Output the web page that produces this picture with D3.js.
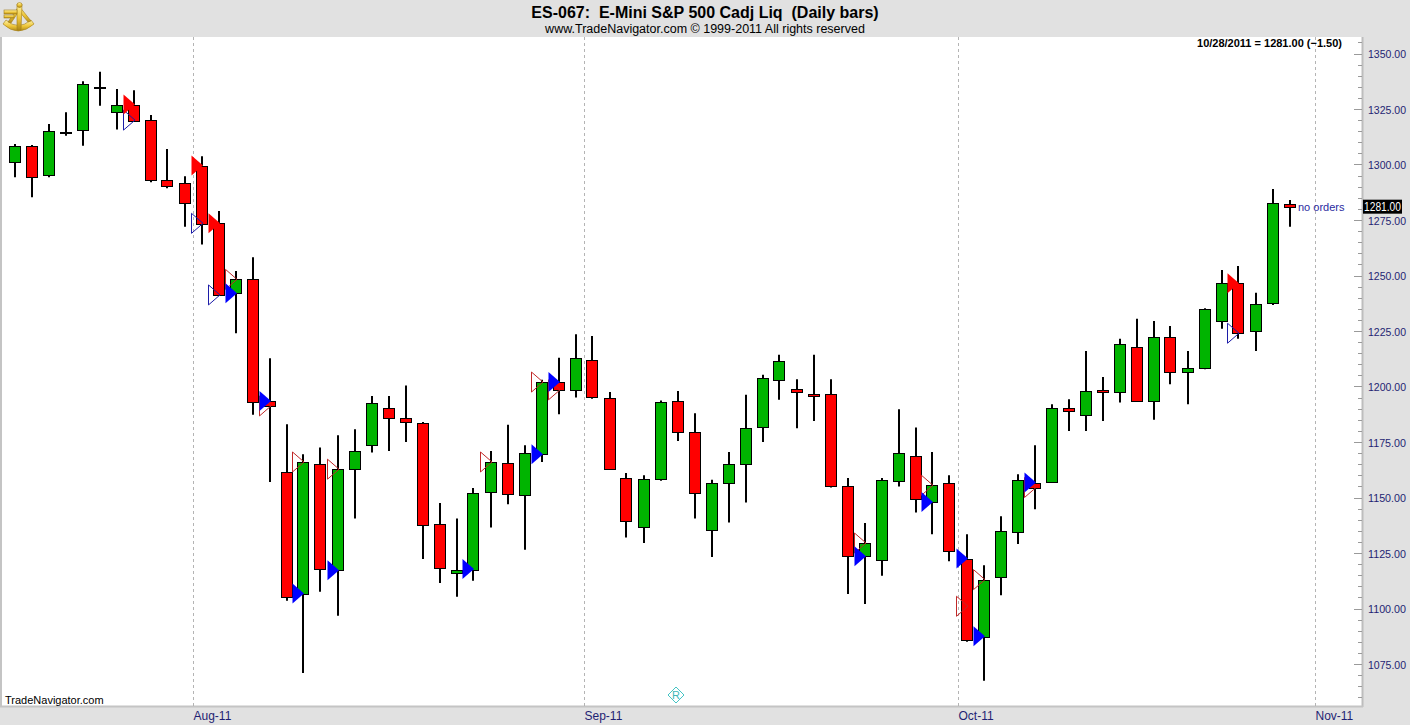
<!DOCTYPE html>
<html>
<head>
<meta charset="utf-8">
<script src="https://cdn.jsdelivr.net/npm/d3@7"></script>
<style>
  body { margin: 0; background: #fff; overflow: hidden; }
  text { font-family: Arial, "Liberation Sans", sans-serif; }
</style>
</head>
<body>
<script>
const svg_width = 1410;
const svg_height = 725;

// daily bars, ES-067 back adjusted
const dates = [
  '2011-07-15','2011-07-18','2011-07-19','2011-07-20','2011-07-21','2011-07-22','2011-07-25','2011-07-26','2011-07-27','2011-07-28','2011-07-29',
  '2011-08-01','2011-08-02','2011-08-03','2011-08-04','2011-08-05','2011-08-08','2011-08-09','2011-08-10','2011-08-11','2011-08-12',
  '2011-08-15','2011-08-16','2011-08-17','2011-08-18','2011-08-19','2011-08-22','2011-08-23','2011-08-24','2011-08-25','2011-08-26',
  '2011-08-29','2011-08-30','2011-08-31',
  '2011-09-01','2011-09-02','2011-09-05','2011-09-06','2011-09-07','2011-09-08','2011-09-09','2011-09-12','2011-09-13','2011-09-14',
  '2011-09-15','2011-09-16','2011-09-19','2011-09-20','2011-09-21','2011-09-22','2011-09-23','2011-09-26','2011-09-27','2011-09-28',
  '2011-09-29','2011-09-30',
  '2011-10-03','2011-10-04','2011-10-05','2011-10-06','2011-10-07','2011-10-10','2011-10-11','2011-10-12','2011-10-13','2011-10-14',
  '2011-10-17','2011-10-18','2011-10-19','2011-10-20','2011-10-21','2011-10-24','2011-10-25','2011-10-26','2011-10-27','2011-10-28'
];
const opens = [
  1301.5, 1308.25, 1295, 1314.75, 1315.5, 1335, 1324, 1327, 1320, 1293, 1291.5,
  1299.5, 1273.5, 1242, 1248.25, 1193.5, 1161.5, 1106.75, 1165, 1117.25, 1162.5,
  1173.5, 1190.5, 1185.75, 1183.5, 1138, 1116, 1117.75, 1152.5, 1165.5, 1151,
  1169.5, 1202, 1198.25,
  1211.75, 1195, 1159, 1137, 1158.5, 1193.25, 1179.5, 1135.75, 1156.5, 1165.5,
  1182, 1202.75, 1198.75, 1196.5, 1196.5, 1155.25, 1123.5, 1121.75, 1157.25, 1168.5,
  1148, 1156.75,
  1122.5, 1087.5, 1114.25, 1134.5, 1156.75, 1157, 1190.25, 1187, 1198.5, 1197.5,
  1218, 1193.75, 1222.5, 1206.5, 1208.5, 1229.5, 1246.5, 1225, 1237.5, 1282.25
];
const highs = [
  1309.25, 1308.75, 1318.25, 1323.5, 1337.5, 1341.75, 1334, 1333.5, 1322.25, 1307, 1294.75,
  1303.75, 1279, 1252, 1258.25, 1212.75, 1183, 1169.5, 1172.5, 1178, 1180.75,
  1195.75, 1195.75, 1200.5, 1184, 1147.5, 1140.5, 1154.25, 1171, 1182.75, 1173.5,
  1203, 1213, 1223.5,
  1222.75, 1197.5, 1161, 1160, 1193.75, 1198, 1188, 1158, 1170.5, 1196.25,
  1205.25, 1214.25, 1203.25, 1214.25, 1203.25, 1158.75, 1138.5, 1158.75, 1189.75, 1181.5,
  1170.5, 1160,
  1133.5, 1119.5, 1141.5, 1160.5, 1173.5, 1192, 1194.25, 1216, 1204.25, 1221.5,
  1230.5, 1229.5, 1227.25, 1216, 1235.25, 1252.5, 1254.25, 1242.25, 1289, 1284
];
const lows = [
  1294.25, 1285.25, 1294.25, 1313, 1308.5, 1326.5, 1315.75, 1320, 1292, 1289.25, 1272,
  1264, 1240.75, 1224, 1187.25, 1157, 1103.5, 1071, 1107.5, 1096.75, 1140.5,
  1170.25, 1171, 1175, 1122.25, 1111.5, 1105.25, 1112.5, 1136.5, 1147, 1126.5,
  1166, 1187.5, 1195,
  1194.5, 1162.5, 1132, 1129.5, 1157.5, 1175.5, 1140.5, 1123.25, 1138.75, 1147.75,
  1175, 1194, 1181.25, 1184.5, 1154.5, 1106.5, 1102, 1114.75, 1155, 1143.25,
  1133.5, 1121.25,
  1085, 1067.5, 1106, 1129, 1144.75, 1156.5, 1180, 1180, 1184.5, 1192.75,
  1193.25, 1185, 1201, 1192, 1207.75, 1226, 1221.5, 1216, 1236.75, 1272
];
const closes = [
  1308.5, 1294.25, 1315, 1314.75, 1336.25, 1335, 1327, 1320, 1293, 1290.5, 1282.5,
  1273.5, 1241.25, 1248.25, 1193, 1191.25, 1105.25, 1166, 1117.75, 1162.75, 1170.75,
  1192.5, 1186, 1184, 1137.5, 1118, 1117.25, 1152.25, 1166, 1151.5, 1170,
  1202, 1198.5, 1212.75,
  1195, 1163, 1139.5, 1158.5, 1193, 1179.5, 1152, 1156.75, 1165, 1181.5,
  1204, 1211.5, 1197.5, 1195.5, 1155.25, 1123.5, 1129.5, 1158, 1170, 1149.25,
  1155.5, 1126,
  1086, 1113, 1135, 1158, 1154.5, 1190.5, 1189, 1197.75, 1197.5, 1219,
  1193.5, 1222.5, 1206.75, 1208.5, 1235, 1246.5, 1224, 1237, 1282.5, 1281
];

// strategy markers: sell = red, buy = blue, fill = filled, open = outline
const marker_dates = [
  '2011-07-26','2011-07-26','2011-08-01','2011-08-01','2011-08-02','2011-08-02','2011-08-03','2011-08-03',
  '2011-08-05','2011-08-05','2011-08-09','2011-08-09','2011-08-11','2011-08-11','2011-08-23','2011-08-24',
  '2011-08-29','2011-08-29','2011-08-30','2011-08-30','2011-09-23','2011-09-23','2011-09-29','2011-09-29',
  '2011-10-03','2011-10-03','2011-10-04','2011-10-04','2011-10-07','2011-10-07','2011-10-25','2011-10-25'
];
const marker_prices = [
  1327, 1320, 1299.5, 1273.5, 1273.5, 1241.25, 1242, 1248.25,
  1193.5, 1191.25, 1106.75, 1166, 1117.25, 1162.75, 1117.75, 1166,
  1169.5, 1202, 1202, 1198.5, 1123.5, 1129.5, 1148, 1155.5,
  1122.5, 1101, 1087.5, 1113, 1156.75, 1154.5, 1246.5, 1224
];
const marker_types = [
  'sell_fill','buy_open','sell_fill','buy_open','sell_fill','buy_open','buy_fill','sell_open',
  'buy_fill','sell_open','buy_fill','sell_open','buy_fill','sell_open','buy_fill','sell_open',
  'buy_fill','sell_open','buy_fill','sell_open','buy_fill','sell_open','buy_fill','sell_open',
  'buy_fill','sell_open','buy_fill','sell_open','buy_fill','sell_open','sell_fill','buy_open'
];

const month_labels = ['Aug-11', 'Sep-11', 'Oct-11', 'Nov-11'];
const month_firsts = ['2011-08-01', '2011-09-01', '2011-10-03', '2011-11-01'];
const y_ticks = [1075, 1100, 1125, 1150, 1175, 1200, 1225, 1250, 1275, 1300, 1325, 1350];

const last_price = closes[closes.length - 1];
const last_change = last_price - closes[closes.length - 2];

const plot_top = 37, plot_bottom = 706, plot_right = 1362;
const colors = {up: '#00b400', down: '#ff0000', navy: '#1f1f73', panel: '#e1e1e1'};

// trading day index, extends past the last bar by weekdays
function trade_index(ds) {
    const i = dates.indexOf(ds);
    if (i >= 0) return i;
    let d = new Date(dates[dates.length - 1] + 'T00:00:00Z');
    const end = new Date(ds + 'T00:00:00Z');
    let n = dates.length - 1;
    while (d < end) {
        d = new Date(d.getTime() + 86400000);
        const wd = d.getUTCDay();
        if (wd !== 0 && wd !== 6) n++;
    }
    return n;
}

const x = d3.scaleLinear().domain([0, dates.length - 1]).range([14.5, 1289.5]);
const y = d3.scaleLinear().domain([1075, 1350]).range([664, 53.5]);

const svg = d3.select('body')
    .append('svg')
    .attr('width', svg_width)
    .attr('height', svg_height);

svg.append('rect')
    .attr('width', svg_width)
    .attr('height', svg_height)
    .attr('fill', colors.panel);

svg.append('rect')
    .attr('x', 0)
    .attr('y', plot_top)
    .attr('width', plot_right)
    .attr('height', plot_bottom - plot_top)
    .attr('fill', 'white');

// frame lines
svg.append('line').attr('x1', 1).attr('x2', 1).attr('y1', plot_top).attr('y2', plot_bottom)
    .attr('stroke', '#c4c4c4').attr('stroke-width', 2);
svg.append('line').attr('x1', plot_right + 0.5).attr('x2', plot_right + 0.5).attr('y1', plot_top).attr('y2', plot_bottom + 1)
    .attr('stroke', '#bdbdbd').attr('stroke-width', 2);
svg.append('line').attr('x1', 0).attr('x2', plot_right + 1).attr('y1', plot_bottom + 0.5).attr('y2', plot_bottom + 0.5)
    .attr('stroke', '#c4c4c4').attr('stroke-width', 2);

// month separators
const month_g = svg.append('g');
month_labels.forEach(function (label, i) {
    const mx = Math.round(x(trade_index(month_firsts[i]) - 0.5)) + 0.5;
    month_g.append('line')
        .attr('x1', mx).attr('x2', mx)
        .attr('y1', plot_top).attr('y2', plot_bottom)
        .attr('stroke', '#b4b4b4')
        .attr('stroke-dasharray', '3,3');
    month_g.append('text')
        .attr('x', mx)
        .attr('y', 720)
        .attr('font-size', 12)
        .attr('fill', colors.navy)
        .text(label);
});

// y axis on the right
const axis_g = svg.append('g');
d3.range(1060, 1360, 5).forEach(function (v) {
    const ty = Math.round(y(v)) + 0.5;
    if (ty < plot_top + 2 || ty > plot_bottom - 2) return;
    const major = v % 25 === 0;
    axis_g.append('line')
        .attr('x1', major ? plot_right - 8 : plot_right - 4)
        .attr('x2', plot_right)
        .attr('y1', ty).attr('y2', ty)
        .attr('stroke', '#9a9a9a');
});
axis_g.selectAll('text')
    .data(y_ticks)
    .enter()
    .append('text')
    .attr('x', 1368)
    .attr('y', d => y(d) + 4.5)
    .attr('font-size', 11.5)
    .attr('textLength', 38)
    .attr('lengthAdjust', 'spacingAndGlyphs')
    .attr('fill', colors.navy)
    .text(d => d3.format('.2f')(d));

// last price flag
axis_g.append('rect')
    .attr('x', 1363)
    .attr('y', y(last_price) - 7)
    .attr('width', 39)
    .attr('height', 14)
    .attr('fill', 'black');
axis_g.append('text')
    .attr('x', 1364)
    .attr('y', y(last_price) + 4.5)
    .attr('font-size', 12)
    .attr('textLength', 37)
    .attr('lengthAdjust', 'spacingAndGlyphs')
    .attr('fill', 'white')
    .text(d3.format('.2f')(last_price));

// candles
const bars = dates.map((d, i) => ({i: i, o: opens[i], h: highs[i], l: lows[i], c: closes[i]}));
const candle_g = svg.append('g');
candle_g.selectAll('.wick')
    .data(bars)
    .enter()
    .append('line')
    .attr('class', 'wick')
    .attr('x1', d => Math.round(x(d.i)))
    .attr('x2', d => Math.round(x(d.i)))
    .attr('y1', d => y(d.h))
    .attr('y2', d => y(d.l))
    .attr('stroke', 'black')
    .attr('stroke-width', 2);
candle_g.selectAll('.body')
    .data(bars)
    .enter()
    .append('rect')
    .attr('class', 'body')
    .attr('x', d => Math.round(x(d.i)) - 5.5)
    .attr('y', d => Math.round(y(Math.max(d.o, d.c))) + 0.5)
    .attr('width', 11)
    .attr('height', d => Math.max(1, Math.round(Math.abs(y(d.o) - y(d.c)))))
    .attr('fill', d => d.c >= d.o ? colors.up : colors.down)
    .attr('stroke', 'black')
    .attr('stroke-width', 1);

// signal triangles, outlines under filled ones
const markers = marker_dates.map((d, i) => ({i: trade_index(d), p: marker_prices[i], t: marker_types[i]}));
const tri = d => {
    const mx = Math.round(x(d.i)), my = y(d.p);
    return `M${mx - 10.5},${my - 10}L${mx + 1},${my}L${mx - 10.5},${my + 10}Z`;
};
const marker_g = svg.append('g');
marker_g.selectAll('.open_mark')
    .data(markers.filter(m => m.t.endsWith('open')))
    .enter()
    .append('path')
    .attr('d', tri)
    .attr('fill', 'none')
    .attr('stroke', d => d.t === 'buy_open' ? '#1c1ca8' : '#c02828')
    .attr('stroke-width', 1);
marker_g.selectAll('.fill_mark')
    .data(markers.filter(m => m.t.endsWith('fill')))
    .enter()
    .append('path')
    .attr('d', tri)
    .attr('fill', d => d.t === 'buy_fill' ? '#0000ff' : '#ff0000');

// no orders note
svg.append('text')
    .attr('x', 1298)
    .attr('y', y(last_price) + 4)
    .attr('font-size', 11)
    .attr('fill', '#2a2aa0')
    .text('no orders');

// header
svg.append('text')
    .attr('x', 705)
    .attr('y', 18)
    .attr('text-anchor', 'middle')
    .attr('font-size', 16)
    .attr('font-weight', 'bold')
    .style('white-space', 'pre')
    .text('ES-067:  E-Mini S&P 500 Cadj Liq  (Daily bars)');
svg.append('text')
    .attr('x', 705)
    .attr('y', 33)
    .attr('text-anchor', 'middle')
    .attr('font-size', 12.5)
    .text('www.TradeNavigator.com \u00a9 1999-2011 All rights reserved');

svg.append('text')
    .attr('x', 1342)
    .attr('y', 47)
    .attr('text-anchor', 'end')
    .attr('font-size', 11)
    .attr('font-weight', 'bold')
    .text(`10/28/2011 = ${d3.format('.2f')(last_price)} (${d3.format('.2f')(last_change)})`);

svg.append('text')
    .attr('x', 5)
    .attr('y', 704)
    .attr('font-size', 11)
    .text('TradeNavigator.com');

// R diamond marker
const r_g = svg.append('g').attr('transform', 'translate(676, 695)');
r_g.append('path')
    .attr('d', 'M0,-8L8,0L0,8L-8,0Z')
    .attr('fill', 'none')
    .attr('stroke', '#45c4c4');
r_g.append('text')
    .attr('text-anchor', 'middle')
    .attr('y', 4)
    .attr('font-size', 11)
    .attr('font-family', 'DejaVu Serif, serif')
    .attr('fill', '#3fb8b8')
    .text('R');

// logo, rough sextant
const gold = svg.append('defs').append('linearGradient')
    .attr('id', 'gold').attr('x1', 0).attr('y1', 0).attr('x2', 0).attr('y2', 1);
gold.append('stop').attr('offset', '0%').attr('stop-color', '#fff4a8');
gold.append('stop').attr('offset', '55%').attr('stop-color', '#eec63a');
gold.append('stop').attr('offset', '100%').attr('stop-color', '#b08a18');
const logo = svg.append('g')
    .attr('fill', 'url(#gold)')
    .attr('stroke', '#a27c14')
    .attr('stroke-width', 0.6);
logo.append('path')
    .attr('d', 'M3,24 Q18,38 34,24 L31,20 Q18,31 6,20 Z');
logo.append('path')
    .attr('d', 'M19,6 L8,22 L11,23 L19,11 L28,22 L31,21 Z');
logo.append('path')
    .attr('d', 'M17,4 L22,4 L21,30 L17,30 Z');
logo.append('rect').attr('x', 4).attr('y', 10).attr('width', 13).attr('height', 4);
logo.append('rect').attr('x', 4).attr('y', 15).attr('width', 10).attr('height', 3);
logo.append('circle').attr('cx', 19.5).attr('cy', 5).attr('r', 2.5);
</script>
</body>
</html>
